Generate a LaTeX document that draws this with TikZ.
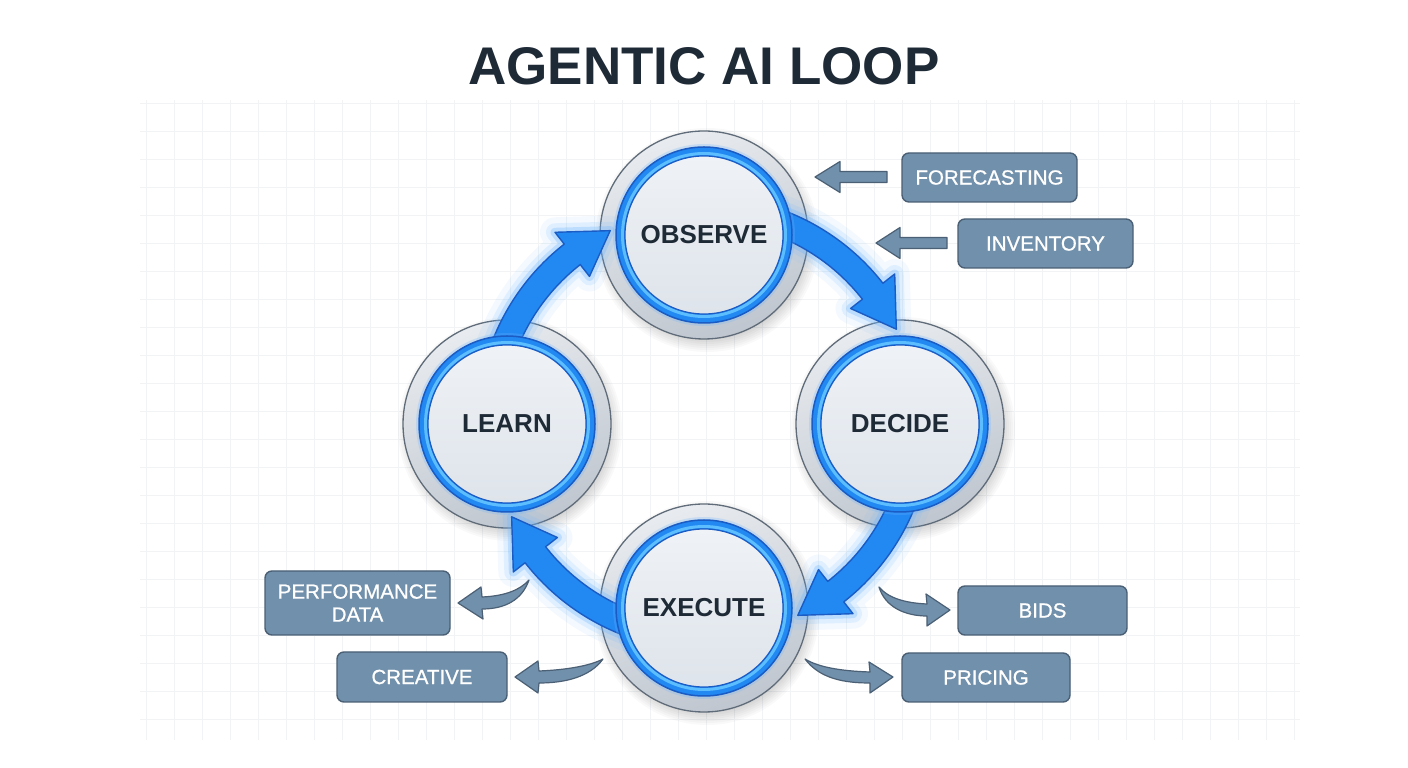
\documentclass[tikz,border=0pt]{standalone}
\usepackage{fontspec}
\setmainfont{Liberation Sans}
\newfontfamily\medfont[FakeBold=0.9]{Liberation Sans}
\definecolor{titlec}{HTML}{1F2A37}
\definecolor{gridc}{HTML}{F1F3F5}
\definecolor{grayA}{HTML}{E8EBEF}
\definecolor{grayB}{HTML}{BFC6CF}
\definecolor{ringedge}{HTML}{5F6B78}
\definecolor{blueF}{HTML}{2288F2}
\definecolor{blueD}{HTML}{1A5CC4}
\definecolor{blueH}{HTML}{5CBEFF}
\definecolor{glowc}{HTML}{6DB6FF}
\definecolor{coreA}{HTML}{EFF2F6}
\definecolor{coreB}{HTML}{DEE4EB}
\definecolor{slate}{HTML}{7190AB}
\definecolor{slateD}{HTML}{4B6075}
\tikzset{
  core/.style={circle, minimum size=158pt, inner sep=0pt, top color=coreA, bottom color=coreB,
    draw=blueD, line width=1.2pt, text=titlec, font=\fontsize{26}{28}\selectfont\bfseries},
  sidebox/.style={rounded corners=7pt, fill=slate, draw=slateD, line width=1.4pt, text=white,
    inner sep=0pt, align=center, font=\fontsize{20.5}{23}\selectfont\medfont},
  sidearrow/.style={fill=slate, draw=slateD, line width=1.2pt, line join=round},
  bigarrow/.style={fill=blueF, draw=blueD, line width=1.4pt, line join=round}
}
\begin{document}
\begin{tikzpicture}[x=1pt,y=1pt]
\useasboundingbox (0,0) rectangle (1408,768);
\fill[white] (0,0) rectangle (1408,768);
% faint grid
\foreach \x in {146,174,...,1294} \draw[gridc, line width=0.8pt] (\x,28) -- (\x,668);
\foreach \y in {49,77,...,665} \draw[gridc, line width=0.8pt] (140,\y) -- (1300,\y);

% title
\node[text=titlec, font=\fontsize{53}{58}\selectfont\bfseries] (title) at (704,702) {AGENTIC AI LOOP};

% gray outer rings with shadows
\foreach \cx/\cy in {704/533, 507/344, 900/344, 704/160} {
  \begin{scope}[shift={(\cx,\cy)}]
    \foreach \r in {100,102,...,112} \fill[black, opacity=0.025] (3,-5) circle (\r);
    \shade[top color=grayA, bottom color=grayB, shading angle=20] (0,0) circle (104);
    \draw[ringedge, line width=1.3pt] (0,0) circle (104);
  \end{scope}
}

% big blue loop arrows
\begin{scope}[shift={(704,345)}]
  \foreach \a/\b/\c in {165/128/116, 75/38/26, -15/-52/-64, 255/218/206} {
    \draw[glowc, opacity=0.08, line width=30pt, line join=round] (\a:227) arc[start angle=\a, end angle=\b, radius=227] -- (\b:242) -- (\c:214) -- (\b:186) -- (\b:201) arc[start angle=\b, end angle=\a, radius=201] -- cycle;
    \draw[glowc, opacity=0.14, line width=18pt, line join=round] (\a:227) arc[start angle=\a, end angle=\b, radius=227] -- (\b:242) -- (\c:214) -- (\b:186) -- (\b:201) arc[start angle=\b, end angle=\a, radius=201] -- cycle;
    \draw[glowc, opacity=0.30, line width=9pt, line join=round] (\a:227) arc[start angle=\a, end angle=\b, radius=227] -- (\b:242) -- (\c:214) -- (\b:186) -- (\b:201) arc[start angle=\b, end angle=\a, radius=201] -- cycle;
    \draw[bigarrow] (\a:227) arc[start angle=\a, end angle=\b, radius=227] -- (\b:242) -- (\c:214) -- (\b:186) -- (\b:201) arc[start angle=\b, end angle=\a, radius=201] -- cycle;
  }
\end{scope}

% blue rings
\foreach \cx/\cy in {704/533, 507/344, 900/344, 704/160} {
  \begin{scope}[shift={(\cx,\cy)}]
    \fill[glowc, opacity=0.25] (0,0) circle (91);
    \fill[blueF] (0,0) circle (88);
    \draw[blueD, line width=1.5pt] (0,0) circle (88);
    \draw[blueH, line width=3pt] (0,0) circle (81.5);
  \end{scope}
}

% cores
\node[core] (observe) at (704,533) {\raisebox{-2pt}{OBSERVE}};
\node[core] (learn) at (507,344) {LEARN};
\node[core] (decide) at (900,344) {DECIDE};
\node[core] (execute) at (704,160) {EXECUTE};

% side boxes
\node[sidebox, minimum width=175pt, minimum height=49pt] (forecast) at (989.5,590.5) {FORECASTING};
\node[sidebox, minimum width=175pt, minimum height=49pt] (inventory) at (1045.5,524.5) {INVENTORY};
\node[sidebox, minimum width=185pt, minimum height=64pt] (perf) at (357.5,165) {PERFORMANCE\\DATA};
\node[sidebox, minimum width=170pt, minimum height=50pt] (creative) at (422,91) {CREATIVE};
\node[sidebox, minimum width=169pt, minimum height=49pt] (bids) at (1042.5,157.5) {BIDS};
\node[sidebox, minimum width=168pt, minimum height=49pt] (pricing) at (986,90.5) {PRICING};

% straight input arrows
\draw[sidearrow] (887,596.5) -- (840,596.5) -- (840,606.5) -- (815,591) -- (840,575.5) -- (840,585.5) -- (887,585.5) -- cycle;
\draw[sidearrow] (947,530.5) -- (900,530.5) -- (900,540.5) -- (876,525) -- (900,509.5) -- (900,519.5) -- (947,519.5) -- cycle;

% curved output arrows
\draw[sidearrow] (458,165) -- (481,181) -- (482,171) .. controls (505,172) and (520,178) .. (529,188) .. controls (522,168) and (505,159) .. (482,159) -- (483,149) -- cycle;
\draw[sidearrow] (515,91) -- (538,107) -- (539,97) .. controls (565,98) and (590,102) .. (603,109) .. controls (590,91) and (565,85) .. (539,85) -- (538,75) -- cycle;
\draw[sidearrow] (950,158) -- (926,174) -- (927,164) .. controls (905,165) and (888,170) .. (879,181) .. controls (885,161) and (905,152) .. (927,152) -- (927,142) -- cycle;
\draw[sidearrow] (893,91) -- (869,106) -- (870,96) .. controls (840,97) and (818,101) .. (805,109) .. controls (820,89) and (845,85) .. (870,85) -- (870,75) -- cycle;
\end{tikzpicture}
\end{document}
